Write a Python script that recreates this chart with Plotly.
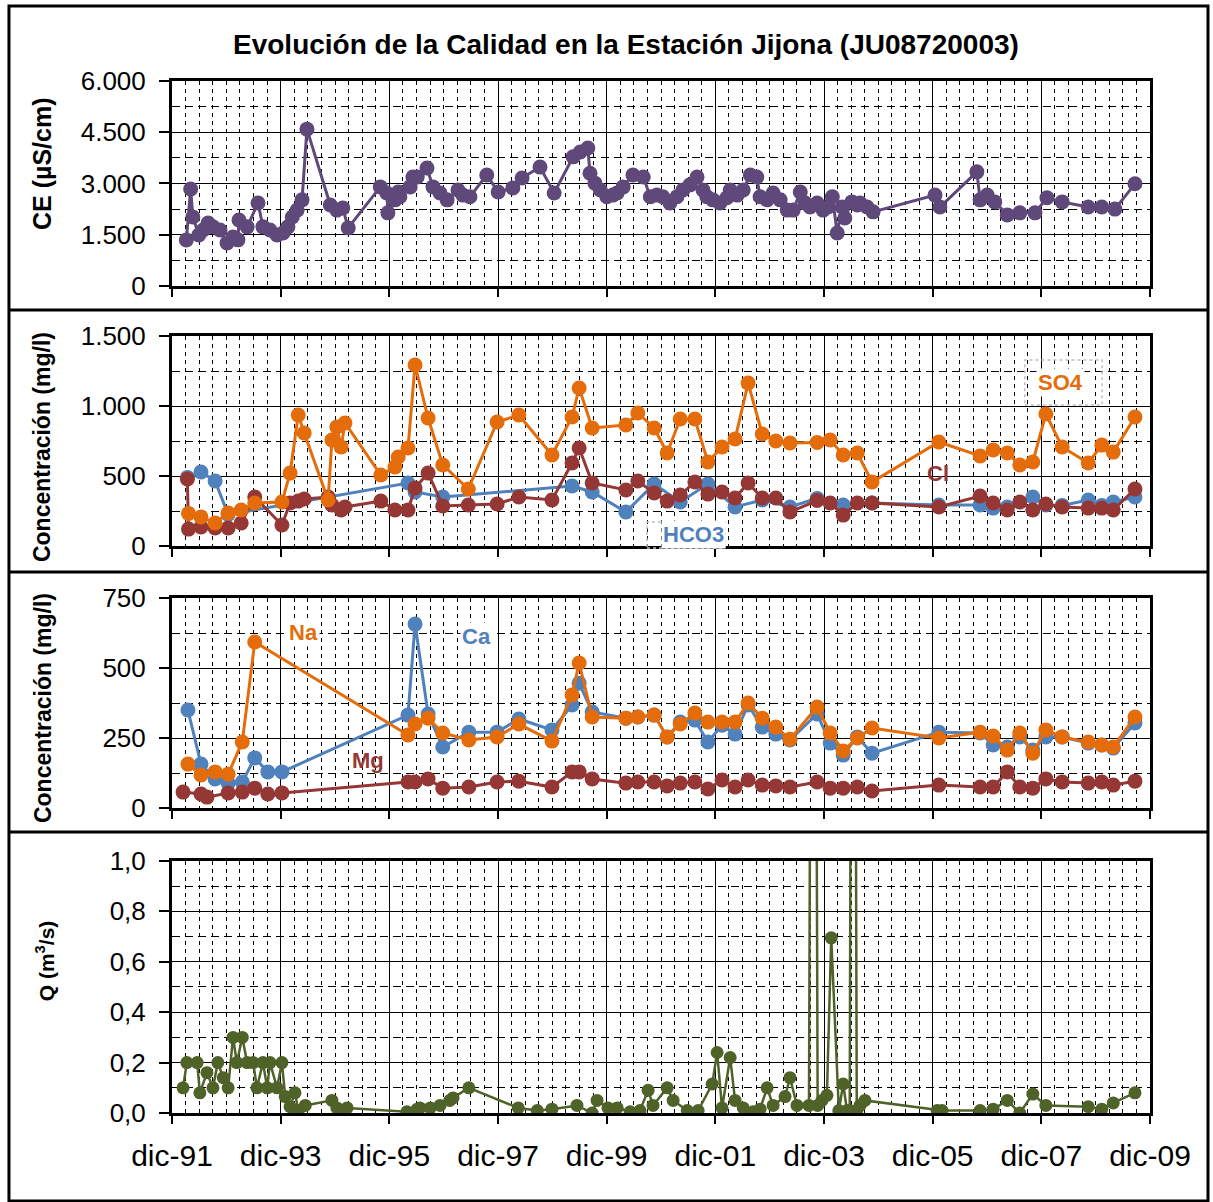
import plotly.graph_objects as go

FONT = "Liberation Sans, Arial, sans-serif"

# ---------------- data (decimal years) ----------------
X0 = 1991.9167  # dic-91
x_tick_vals = [X0 + 2 * k for k in range(10)]
x_tick_text = ["dic-91", "dic-93", "dic-95", "dic-97", "dic-99",
               "dic-01", "dic-03", "dic-05", "dic-07", "dic-09"]

ce_t = [1992.18, 1992.26, 1992.30, 1992.41, 1992.49, 1992.58, 1992.67, 1992.80, 1992.93, 1993.04,
        1993.13, 1993.15, 1993.30, 1993.50, 1993.59, 1993.72, 1993.85, 1993.96, 1994.05, 1994.13,
        1994.22, 1994.31, 1994.40, 1994.83, 1994.95, 1995.06, 1995.16, 1995.75, 1995.87, 1995.89,
        1996.02, 1996.08, 1996.11, 1996.30, 1996.35, 1996.43, 1996.61, 1996.72, 1996.85, 1996.98,
        1997.18, 1997.27, 1997.40, 1997.71, 1997.92, 1998.19, 1998.36, 1998.69, 1998.95, 1999.30,
        1999.43, 1999.57, 1999.61, 1999.70, 1999.80, 1999.92, 2000.03, 2000.11, 2000.22, 2000.40,
        2000.59, 2000.72, 2000.84, 2000.95, 2001.08, 2001.21, 2001.32, 2001.45, 2001.58, 2001.69,
        2001.76, 2001.87, 2002.00, 2002.13, 2002.19, 2002.32, 2002.43, 2002.56, 2002.68, 2002.74,
        2002.87, 2002.98, 2003.11, 2003.24, 2003.35, 2003.48, 2003.57, 2003.66, 2003.79, 2003.90,
        2003.99, 2004.07, 2004.16, 2004.25, 2004.30, 2004.43, 2004.53, 2004.58, 2004.71, 2004.82,
        2005.96, 2006.05, 2006.73, 2006.79, 2006.92, 2007.06, 2007.29, 2007.52, 2007.80, 2008.02,
        2008.30, 2008.78, 2009.03, 2009.27, 2009.64]
ce_v = [1346, 2840, 2020, 1490, 1640, 1840, 1730, 1640, 1260, 1430,
        1350, 1930, 1730, 2430, 1730, 1640, 1490, 1550, 1730, 2020,
        2220, 2520, 4590, 2370, 2220, 2280, 1700, 2900, 2720, 2140,
        2520, 2750, 2610, 2900, 3190, 3190, 3450, 2900, 2720, 2520,
        2810, 2660, 2610, 3250, 2750, 2870, 3160, 3480, 2720, 3780,
        3920, 4040, 3300, 3010, 2810, 2610, 2660, 2720, 2900, 3250,
        3190, 2610, 2660, 2610, 2430, 2610, 2810, 2960, 3190, 2810,
        2610, 2520, 2430, 2580, 2810, 2660, 2810, 3250, 3190, 2610,
        2520, 2720, 2520, 2220, 2220, 2750, 2430, 2310, 2430, 2220,
        2310, 2610, 1550, 2310, 1990, 2460, 2370, 2430, 2310, 2170,
        2660, 2310, 3340, 2520, 2660, 2460, 2080, 2140, 2140, 2580,
        2460, 2310, 2310, 2250, 2990]

an_t = [1992.20, 1992.22, 1992.45, 1992.71, 1992.95, 1993.19, 1993.44, 1993.94, 1994.09, 1994.24,
        1994.35, 1994.79, 1994.86, 1994.95, 1995.03, 1995.10, 1995.76, 1996.02, 1996.08, 1996.26,
        1996.39, 1996.63, 1996.90, 1997.37, 1997.90, 1998.30, 1998.91, 1999.28, 1999.41, 1999.65,
        2000.27, 2000.49, 2000.79, 2001.03, 2001.27, 2001.54, 2001.78, 2002.04, 2002.28, 2002.52,
        2002.78, 2003.03, 2003.29, 2003.79, 2004.03, 2004.27, 2004.53, 2004.80, 2006.03, 2006.79,
        2007.03, 2007.29, 2007.52, 2007.76, 2008.00, 2008.30, 2008.78, 2009.03, 2009.24, 2009.64]
hco3 = [490, None, 529, 464, 225, None, None, None, None, None,
        None, None, None, None, None, None, None, None, None, 450,
        386, None, 350, None, None, None, None, 429, None, 386,
        243, None, 443, None, 314, None, 443, None, 279, None,
        329, None, 279, 340, None, 293, None, 307, 293, 293,
        271, 279, None, 350, 293, 290, 329, 290, 314, 350]
so4 = [None, 233, 207, 164, 236, 257, 307, 314, 521, 936,
       807, 329, 757, 850, 707, 879, 507, 564, 636, 700,
       1293, 914, 579, 407, 886, 936, 650, 921, 1129, 843,
       864, 950, 843, 664, 907, 907, 600, 707, 764, 1164,
       800, 750, 736, 740, 757, 650, 664, 457, 743, 643,
       686, 664, 579, 600, 943, 707, 593, 721, 671, 921]
cl = [479, 121, 136, 129, 129, 164, 350, 150, 307, 321,
      336, 350, 293, None, 257, 279, 321, 257, None, 257,
      414, 521, 286, 293, 300, 350, 329, 593, 700, 450,
      400, 464, 379, 321, 364, 457, 371, 386, 343, 450,
      343, 343, 243, 325, 307, 221, 307, 307, 279, 357,
      307, 257, 314, 257, 300, 279, 271, 271, 257, 407]

cat_t = [1992.12, 1992.21, 1992.45, 1992.56, 1992.71, 1992.95, 1993.21, 1993.44, 1993.68, 1993.94,
         1996.26, 1996.39, 1996.63, 1996.90, 1997.38, 1997.90, 1998.30, 1998.91, 1999.28, 1999.41,
         1999.65, 2000.27, 2000.49, 2000.79, 2001.03, 2001.27, 2001.54, 2001.78, 2002.04, 2002.28,
         2002.52, 2002.78, 2003.03, 2003.29, 2003.79, 2004.03, 2004.27, 2004.53, 2004.80, 2006.03,
         2006.79, 2007.03, 2007.29, 2007.52, 2007.76, 2008.00, 2008.30, 2008.78, 2009.03, 2009.24,
         2009.64]
ca = [None, 350, 157, None, 104, 89, 93, 179, 129, 129,
      332, 657, 336, 218, 271, 271, 318, 279, 368, 446,
      343, 321, 325, 332, 254, 307, 314, 236, 296, 264,
      368, 289, 264, 243, 336, 232, 189, 254, 196, 271,
      268, 225, 218, 254, 207, 254, 254, 232, 225, 214,
      304]
na = [None, 157, 118, None, 129, 121, 236, 593, None, None,
      261, 300, 321, 268, 243, 254, 300, 239, 404, 518,
      325, 321, 325, 332, 254, 300, 339, 307, 307, 307,
      375, 321, 289, 246, 361, 268, 204, 250, 286, 250,
      271, 257, 207, 268, 196, 279, 254, 236, 225, 218,
      325]
mg = [57, None, 50, 39, None, 54, 57, 71, 50, 54,
      93, 93, 104, 71, 75, 93, 96, 75, 129, 129,
      104, 89, 93, 93, 79, 89, 93, 68, 100, 75,
      100, 82, 79, 75, 93, 71, 71, 75, 61, 82,
      75, 75, 129, 75, 71, 104, 93, 89, 93, 82,
      96]

q_t = [1992.12, 1992.19, 1992.38, 1992.43, 1992.56, 1992.67, 1992.76, 1992.86, 1992.95, 1993.04,
       1993.11, 1993.21, 1993.30, 1993.41, 1993.48, 1993.59, 1993.67, 1993.72, 1993.85, 1993.94,
       1994.00, 1994.09, 1994.18, 1994.24, 1994.37, 1994.86, 1994.95, 1995.05, 1995.14, 1996.24,
       1996.43, 1996.48, 1996.67, 1996.85, 1997.03, 1997.09, 1997.38, 1998.29, 1998.64, 1998.91,
       1999.37, 1999.65, 1999.74, 1999.94, 2000.11, 2000.35, 2000.53, 2000.68, 2000.77, 2001.03,
       2001.14, 2001.40, 2001.60, 2001.86, 2001.95, 2002.04, 2002.19, 2002.28, 2002.43, 2002.61,
       2002.74, 2002.87, 2002.98, 2003.20, 2003.29, 2003.42, 2003.64, 2003.72, 2003.80, 2003.88,
       2003.97, 2004.05, 2004.19, 2004.27, 2004.34, 2004.39, 2004.45, 2004.52, 2004.58, 2004.67,
       2006.00, 2006.09, 2006.79, 2007.03, 2007.29, 2007.52, 2007.76, 2008.00, 2008.78, 2009.03,
       2009.24, 2009.64]
q_v = [0.10, 0.20, 0.20, 0.08, 0.16, 0.10, 0.20, 0.14, 0.10, 0.30,
       0.20, 0.30, 0.20, 0.20, 0.10, 0.20, 0.10, 0.20, 0.10, 0.20,
       0.065, 0.025, 0.08, 0.01, 0.03, 0.05, 0.02, 0.01, 0.02, 0.005,
       0.015, 0.02, 0.02, 0.03, 0.05, 0.06, 0.10, 0.02, 0.01, 0.015,
       0.03, 0.0, 0.05, 0.02, 0.02, 0.005, 0.01, 0.09, 0.03, 0.10,
       0.05, 0.01, 0.01, 0.115, 0.24, 0.02, 0.22, 0.05, 0.02, 0.005,
       0.015, 0.10, 0.03, 0.065, 0.14, 0.03, 0.03, 5.0, 0.03, 0.05,
       0.07, 0.695, 0.01, 0.115, 0.01, 0.01, 5.0, 0.01, 0.03, 0.05,
       0.01, 0.01, 0.01, 0.015, 0.05, 0.0, 0.075, 0.03, 0.025, 0.015,
       0.04, 0.08]

# ---------------- styles ----------------
PURPLE = "#5F497A"
BLUE = "#4F81BD"
ORANGE = "#E46C0A"
RED = "#953735"
GREEN = "#4F6228"

fig = go.Figure()


def add(x, y, color, xa, ya, size=15, width=3):
    fig.add_trace(go.Scatter(x=x, y=y, mode="lines+markers", connectgaps=True,
                             line=dict(color=color, width=width),
                             marker=dict(color=color, size=size),
                             xaxis=xa, yaxis=ya, showlegend=False, hoverinfo="skip"))


add(ce_t, ce_v, PURPLE, "x", "y", size=15, width=3)
add(an_t, hco3, BLUE, "x2", "y2")
add(an_t, cl, RED, "x2", "y2")
add(an_t, so4, ORANGE, "x2", "y2")
add(cat_t, ca, BLUE, "x3", "y3")
add(cat_t, mg, RED, "x3", "y3")
add(cat_t, na, ORANGE, "x3", "y3")
add(q_t, q_v, GREEN, "x4", "y4", size=13, width=2.5)


def xcfg(anchor, labels):
    return dict(domain=[0, 1], anchor=anchor, range=[X0, X0 + 18],
                tickmode="array", tickvals=x_tick_vals, ticktext=x_tick_text,
                showticklabels=labels, ticks="outside", ticklen=8, tickwidth=2,
                tickcolor="black", showline=True, linewidth=3, linecolor="black",
                mirror=True, showgrid=True, gridcolor="black", gridwidth=1,
                zeroline=False, ticklabelstandoff=6,
                minor=dict(tickmode="linear", tick0=X0, dtick=0.25, showgrid=True,
                           gridcolor="black", gridwidth=1, griddash="4px,4px", ticks=""),
                tickfont=dict(family=FONT, size=30, color="black"))


def ycfg(anchor, dom, top, dtick, minor, fmt):
    return dict(domain=dom, anchor=anchor, range=[0, top], tickmode="linear", tick0=0,
                dtick=dtick, tickformat=fmt, ticks="outside", ticklen=10, tickwidth=2,
                tickcolor="black", showline=True, linewidth=3, linecolor="black",
                mirror=True, showgrid=True, gridcolor="black", gridwidth=1,
                zeroline=False, ticklabelstandoff=8,
                minor=dict(tickmode="linear", tick0=0, dtick=minor, showgrid=True,
                           gridcolor="black", gridwidth=1, griddash="8px,5px", ticks=""),
                tickfont=dict(family=FONT, size=26, color="black"))


fig.update_layout(
    width=1213, height=1202,
    margin=dict(l=172, r=63, t=81, b=89),
    paper_bgcolor="white", plot_bgcolor="white",
    separators=",.",
    xaxis=xcfg("y", False),
    xaxis2=xcfg("y2", False),
    xaxis3=xcfg("y3", False),
    xaxis4=xcfg("y4", True),
    yaxis=ycfg("x", [0.8014, 1.0], 6000, 1500, 750, ",.0f"),
    yaxis2=ycfg("x2", [0.5494, 0.7529], 1500, 500, 250, ",.0f"),
    yaxis3=ycfg("x3", [0.2955, 0.4990], 750, 250, 125, ",.0f"),
    yaxis4=ycfg("x4", [0.0, 0.2442], 1.0, 0.2, 0.1, ".1f"),
)

ann = []
ann.append(dict(text="<b>Evolución de la Calidad en la Estación Jijona (JU08720003)</b>",
                x=0.464, y=1.0349, xref="paper", yref="paper", showarrow=False,
                xanchor="center", yanchor="middle",
                font=dict(family=FONT, size=28, color="black")))
for txt, yc, xc, sz in [("CE (µS/cm)", 0.9196, -0.1329, 25),
                        ("Concentración (mg/l)", 0.6453, -0.1329, 23),
                        ("Concentración (mg/l)", 0.3924, -0.1319, 23),
                        ("Q (m<sup>3</sup>/s)", 0.148, -0.1299, 21)]:
    ann.append(dict(text="<b>" + txt + "</b>", x=xc, y=yc, xref="paper", yref="paper",
                    showarrow=False, textangle=-90, xanchor="center", yanchor="middle",
                    font=dict(family=FONT, size=sz, color="black")))
for txt, xc, yc, col, bg in [("SO4", 0.908, 0.708, ORANGE, "white"),
                             ("Cl", 0.783, 0.620, RED, "rgba(0,0,0,0)"),
                             ("HCO3", 0.533, 0.561, BLUE, "white"),
                             ("Na", 0.134, 0.466, ORANGE, "white"),
                             ("Ca", 0.311, 0.462, BLUE, "white"),
                             ("Mg", 0.200, 0.342, RED, "rgba(0,0,0,0)")]:
    ann.append(dict(text="<b>" + txt + "</b>", x=xc, y=yc, xref="paper", yref="paper",
                    showarrow=False, bgcolor=bg, xanchor="center", yanchor="middle",
                    font=dict(family=FONT, size=22, color=col)))
fig.update_layout(annotations=ann)

# panel frames and faint label boxes
shapes = []
shapes.append(dict(type="rect", xref="paper", yref="paper", x0=-0.1667, x1=1.0593,
                   y0=-0.0853, y1=1.0727, line=dict(color="black", width=3)))
for yy in [0.7781, 0.5242, 0.2723]:
    shapes.append(dict(type="line", xref="paper", yref="paper", x0=-0.1667, x1=1.0593,
                       y0=yy, y1=yy, line=dict(color="black", width=3)))
for bx0, bx1, by0, by1 in [(0.872, 0.951, 0.686, 0.7297), (0.4857, 0.5654, 0.5475, 0.5727)]:
    shapes.append(dict(type="rect", xref="paper", yref="paper", x0=bx0, x1=bx1,
                       y0=by0, y1=by1, layer="above",
                       line=dict(color="#BFBFBF", width=1.5, dash="dot")))
fig.update_layout(shapes=shapes)

fig.write_html("out.html", config={"displayModeBar": False},
               post_script="document.body.style.margin='0px';")
